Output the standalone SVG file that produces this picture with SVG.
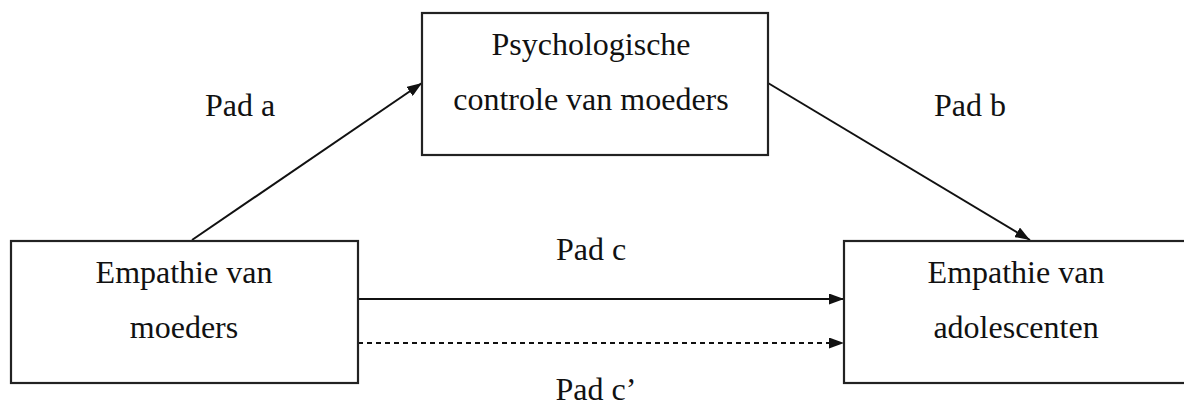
<svg xmlns="http://www.w3.org/2000/svg" width="1184" height="407" viewBox="0 0 1184 407">
<style>
.box{fill:#fff;stroke:#222;stroke-width:2.2}
.t{font-family:"Liberation Serif","Times New Roman",serif;font-size:32px;fill:#111;text-anchor:middle}
.c{stroke:#111;stroke-width:2;fill:none}
</style>
<defs>
<marker id="ah" viewBox="0 0 15 11" refX="15" refY="5.5" markerWidth="15" markerHeight="11" markerUnits="userSpaceOnUse" orient="auto">
<path d="M0,0 L15,5.5 L0,11 Z" fill="#111"/>
</marker>
</defs>
<rect width="1184" height="407" fill="#fff"/>
<g id="connectors">
<line class="c" x1="192" y1="240" x2="422" y2="83" marker-end="url(#ah)"/>
<line class="c" x1="768" y1="83" x2="1030" y2="240" marker-end="url(#ah)"/>
<line class="c" x1="358" y1="299" x2="844" y2="299" marker-end="url(#ah)"/>
<line class="c" x1="358" y1="343" x2="844" y2="343" stroke-dasharray="5,4" marker-end="url(#ah)"/>
</g>
<g id="node-top">
<rect class="box" x="422" y="13" width="346" height="142"/>
<text class="t" x="591" y="55">Psychologische</text>
<text class="t" x="591" y="110">controle van moeders</text>
</g>
<g id="node-left">
<rect class="box" x="11" y="241" width="347" height="142"/>
<text class="t" x="184" y="283">Empathie van</text>
<text class="t" x="184" y="338">moeders</text>
</g>
<g id="node-right">
<rect class="box" x="844" y="241" width="350" height="142"/>
<text class="t" x="1016" y="283">Empathie van</text>
<text class="t" x="1016" y="338">adolescenten</text>
</g>
<g id="labels">
<text class="t" x="240" y="116">Pad a</text>
<text class="t" x="970" y="116">Pad b</text>
<text class="t" x="591" y="260">Pad c</text>
<text class="t" x="596" y="400">Pad c’</text>
</g>
</svg>
